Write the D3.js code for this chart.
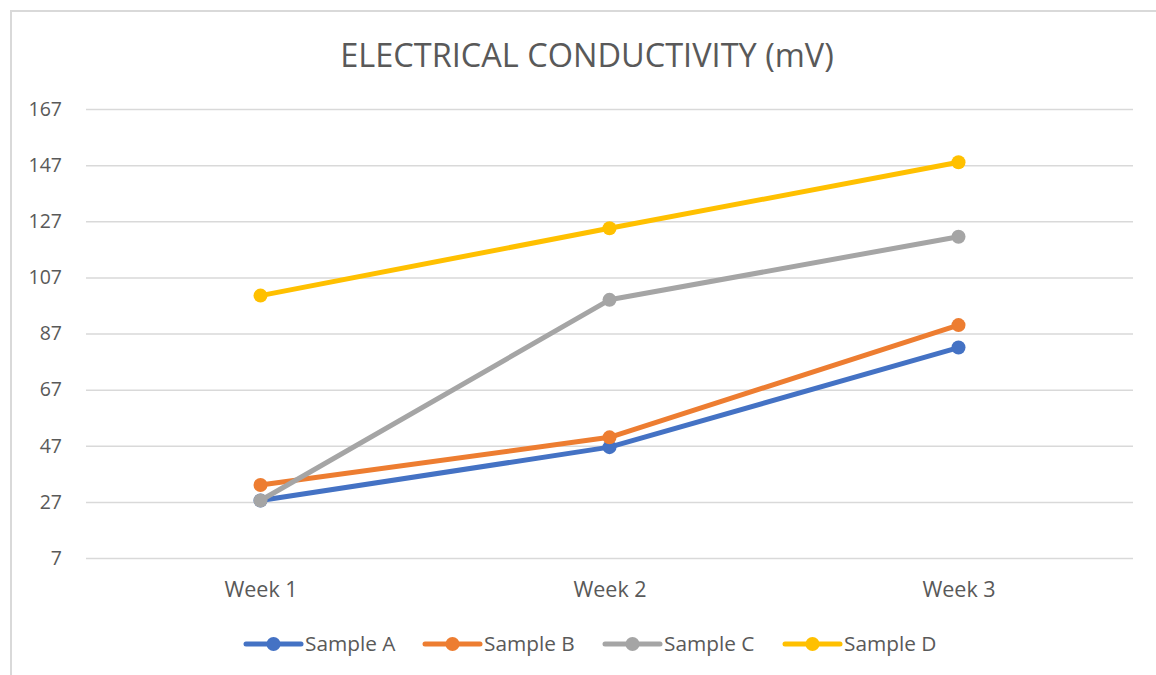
<!DOCTYPE html>
<html>
<head>
<meta charset="utf-8">
<script src="https://cdn.jsdelivr.net/npm/d3@7"></script>
<style>
  body { margin: 0; background: #fff; }
  text { font-family: "Open Sans", Lato, sans-serif; fill: #595959; }
</style>
</head>
<body>
<div id="chart"></div>
<script>
const weeks = ["Week 1", "Week 2", "Week 3"];
const sampleA = [27.5, 46.5, 82];
const sampleB = [33, 50, 90];
const sampleC = [27.5, 99, 121.5];
const sampleD = [100.5, 124.5, 148];
const yTicks = [7, 27, 47, 67, 87, 107, 127, 147, 167];

const series = [
  { name: "Sample A", values: sampleA, color: "#4472C4" },
  { name: "Sample B", values: sampleB, color: "#ED7D31" },
  { name: "Sample C", values: sampleC, color: "#A5A5A5" },
  { name: "Sample D", values: sampleD, color: "#FFC000" }
];

const width = 1156;
const height = 675;
const margin = { top: 109, right: 23, bottom: 117, left: 86 };
const plotW = width - margin.left - margin.right;
const plotH = height - margin.top - margin.bottom;

const svg = d3.select("#chart")
              .append("svg")
              .attr("width", width)
              .attr("height", height);

// chart frame
svg.append("path")
   .attr("d", `M11,${height} L11,11 L${width},11`)
   .attr("fill", "none")
   .attr("stroke", "#d9d9d9")
   .attr("stroke-width", 2);

// title
svg.append("text")
   .attr("x", 587)
   .attr("y", 67)
   .attr("text-anchor", "middle")
   .style("font-size", "32.5px")
   .text("ELECTRICAL CONDUCTIVITY (mV)");

const g = svg.append("g")
             .attr("transform", `translate(${margin.left}, ${margin.top})`);

// Scaling
const xScale = d3.scalePoint()
                 .domain(weeks)
                 .range([0, plotW])
                 .padding(0.5);

const yScale = d3.scaleLinear()
                 .domain([7, 167])
                 .range([plotH, 0]);

// Gridlines + y labels
const yAxis = g.append("g")
               .call(d3.axisLeft(yScale).tickValues(yTicks).tickSize(-plotW).tickPadding(24));
yAxis.select(".domain").remove();
yAxis.selectAll(".tick line").attr("stroke", "#d9d9d9").attr("stroke-width", 1.5);
yAxis.selectAll(".tick text").style("font-size", "19.5px").attr("fill", "#595959");

// x labels
const xAxis = g.append("g")
               .attr("transform", `translate(0, ${plotH})`)
               .call(d3.axisBottom(xScale).tickSize(0).tickPadding(24));
xAxis.select(".domain").remove();
xAxis.selectAll(".tick text").style("font-size", "21.5px").attr("fill", "#595959");

// Lines
const line = d3.line()
               .x((d, i) => xScale(weeks[i]))
               .y(d => yScale(d));

series.forEach(s => {
  g.append("path")
   .datum(s.values)
   .attr("fill", "none")
   .attr("stroke", s.color)
   .attr("stroke-width", 5)
   .attr("stroke-linejoin", "round")
   .attr("d", line);

  g.selectAll(null)
   .data(s.values)
   .enter()
   .append("circle")
   .attr("cx", (d, i) => xScale(weeks[i]))
   .attr("cy", d => yScale(d))
   .attr("r", 7)
   .attr("fill", s.color);
});

// Legend
const legendX = [246, 425, 605, 785];
const legend = svg.append("g").attr("transform", "translate(0, 644)");
series.forEach((s, i) => {
  const item = legend.append("g").attr("transform", `translate(${legendX[i]}, 0)`);
  item.append("line")
      .attr("x1", 0).attr("x2", 55)
      .attr("stroke", s.color)
      .attr("stroke-width", 5)
      .attr("stroke-linecap", "round");
  item.append("circle")
      .attr("cx", 27.5)
      .attr("r", 7)
      .attr("fill", s.color);
  item.append("text")
      .attr("x", 59)
      .attr("dy", "0.35em")
      .style("font-size", "20.8px")
      .text(s.name);
});
</script>
</body>
</html>
